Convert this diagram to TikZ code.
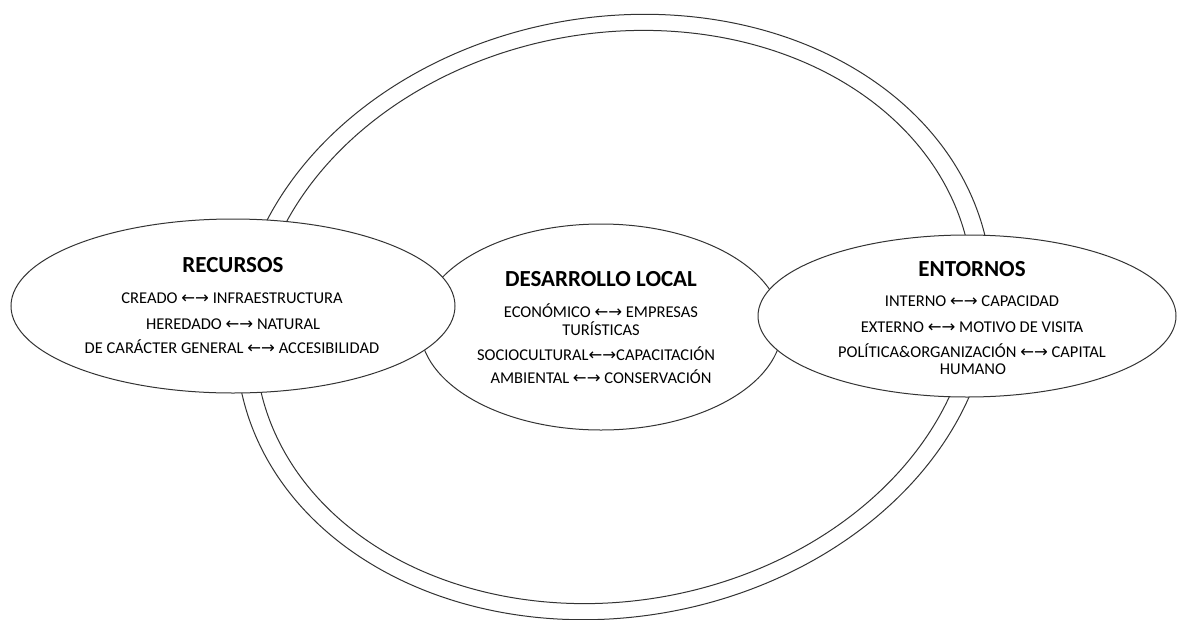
\documentclass[tikz,border=0pt]{standalone}
\usepackage{fontspec}
\setmainfont{Carlito}
\newfontfamily\arrowfont{DejaVu Sans}
\usetikzlibrary{shapes.geometric}
\newcommand\lrarr{{\arrowfont ←→}}
\begin{document}
\begin{tikzpicture}[x=1pt,y=-1pt,
  line/.style={draw=black!80, line width=1pt},
  oval/.style={ellipse, line, fill=white, inner sep=0pt},
  title/.style={anchor=base, font=\bfseries\fontsize{23}{28}\selectfont, inner sep=0pt},
  item/.style={anchor=base, font=\fontsize{16.5}{20}\selectfont, inner sep=0pt}]
\useasboundingbox (0,0) rectangle (1178,619);
\fill[white] (0,0) rectangle (1178,619);
% double outer ellipse, tilted 10 degrees (right end up)
\draw[line] plot[domain=0:360, samples=240, smooth cycle]
  ({614 + 380*cos(\x)*cos(10) - 300*sin(\x)*sin(10)},
   {317 - 380*cos(\x)*sin(10) - 300*sin(\x)*cos(10)});
\draw[line] plot[domain=0:360, samples=240, smooth cycle]
  ({614 + 361*cos(\x)*cos(10) - 284*sin(\x)*sin(10)},
   {317 - 361*cos(\x)*sin(10) - 284*sin(\x)*cos(10)});
% three ovals
\node[oval, minimum width=362pt, minimum height=206pt] (dl) at (601,327) {};
\node[oval, minimum width=444pt, minimum height=174pt] (rec) at (233,306) {};
\node[oval, minimum width=418pt, minimum height=162pt] (ent) at (967,316) {};
% RECURSOS
\node[title] (t1) at (233,272) {RECURSOS};
\node[item] (r1) at (232,303) {CREADO \lrarr{} INFRAESTRUCTURA};
\node[item] (r2) at (233,329) {HEREDADO \lrarr{} NATURAL};
\node[item] (r3) at (232,353) {DE CARÁCTER GENERAL \lrarr{} ACCESIBILIDAD};
% DESARROLLO LOCAL
\node[title] (t2) at (601,286) {DESARROLLO LOCAL};
\node[item] (d1) at (601,317) {ECONÓMICO \lrarr{} EMPRESAS};
\node[item] (d2) at (601,335) {TURÍSTICAS};
\node[item] (d3) at (596,360) {SOCIOCULTURAL\lrarr{}CAPACITACIÓN};
\node[item] (d4) at (601,383) {AMBIENTAL \lrarr{} CONSERVACIÓN};
% ENTORNOS
\node[title] (t3) at (972,276) {ENTORNOS};
\node[item] (e1) at (972,306) {INTERNO \lrarr{} CAPACIDAD};
\node[item] (e2) at (972,332) {EXTERNO \lrarr{} MOTIVO DE VISITA};
\node[item] (e3) at (972,357) {POLÍTICA\&ORGANIZACIÓN \lrarr{} CAPITAL};
\node[item] (e4) at (973,374) {HUMANO};
\end{tikzpicture}
\end{document}
